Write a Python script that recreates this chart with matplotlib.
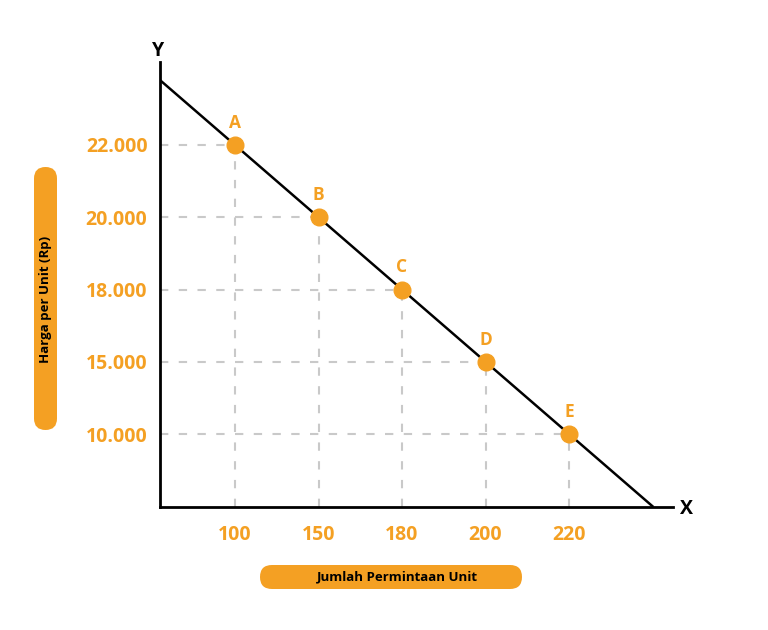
import numpy as np
import matplotlib.pyplot as plt
from matplotlib.patches import FancyBboxPatch

# data
titik = ['A', 'B', 'C', 'D', 'E']
jumlah = [100, 150, 180, 200, 220]               # Jumlah Permintaan Unit
harga = [22000, 20000, 18000, 15000, 10000]      # Harga per Unit (Rp)
harga_ticks = [10000, 15000, 18000, 20000, 22000]
jumlah_labels = ['100', '150', '180', '200', '220']
harga_labels = ['10.000', '15.000', '18.000', '20.000', '22.000']

oranye = '#F4A023'
abu = '#C9C9C9'
plt.rcParams['font.family'] = ['Open Sans', 'DejaVu Sans']

W, H = 768, 630
fig = plt.figure(figsize=(W / 100, H / 100), dpi=100)

# overlay in pixel units for the pill labels
bg = fig.add_axes([0, 0, 1, 1])
bg.set_xlim(0, W)
bg.set_ylim(H, 0)
bg.axis('off')

bg.add_patch(FancyBboxPatch((34, 167), 23, 263, boxstyle='round,pad=0,rounding_size=11.5',
                            fc=oranye, ec='none'))
bg.text(46, 299, 'Harga per Unit (Rp)', rotation=90, ha='center', va='center',
        fontsize=9.5, fontweight='bold', color='black')
bg.add_patch(FancyBboxPatch((260, 565), 262, 24, boxstyle='round,pad=0,rounding_size=12',
                            fc=oranye, ec='none'))
bg.text(397, 577, 'Jumlah Permintaan Unit', ha='center', va='center',
        fontsize=9.5, fontweight='bold', color='black')
bg.text(158, 51, 'Y', ha='center', va='center', fontsize=14, fontweight='bold')
bg.text(686, 509, 'X', ha='center', va='center', fontsize=14, fontweight='bold')

# main chart, categories on evenly spaced positions
ax = fig.add_axes([160 / W, 1 - 507 / H, (673 - 160) / W, (507 - 62) / H])
xpos = np.array([jumlah.index(j) for j in jumlah])
ypos = np.array([harga_ticks.index(h) for h in harga])

x0 = (160 - 235) / 83.5
x1 = (673 - 235) / 83.5
y0 = (434 - 507) / 72.25
y1 = (434 - 62) / 72.25
ax.set_xlim(x0, x1)
ax.set_ylim(y0, y1)

for xp, yp in zip(xpos, ypos):
    ax.plot([x0, xp], [yp, yp], ls=(0, (4, 5)), color=abu, lw=1.5, zorder=1)
    ax.plot([xp, xp], [y0, yp], ls=(0, (4, 5)), color=abu, lw=1.5, zorder=1)

# demand line through the points, extended to the axes
m, c = np.polyfit(xpos, ypos, 1)
xl = np.array([x0, (y0 - c) / m])
ax.plot(xl, m * xl + c, color='black', lw=1.8, zorder=2, solid_capstyle='butt')

ax.plot(xpos, ypos, 'o', color=oranye, ms=12, zorder=3)
for t, xp, yp in zip(titik, xpos, ypos):
    ax.annotate(t, (xp, yp), xytext=(0, 16), textcoords='offset points',
                ha='center', va='center', color=oranye, fontsize=12.5, fontweight='bold')

ax.set_xticks(range(len(jumlah_labels)), jumlah_labels)
ax.set_yticks(range(len(harga_labels)), harga_labels)
ax.tick_params(axis='both', length=0, labelsize=14, labelcolor=oranye)
ax.tick_params(axis='x', pad=13)
ax.tick_params(axis='y', pad=9)
for lab in ax.get_xticklabels() + ax.get_yticklabels():
    lab.set_fontweight('bold')

for s in ['top', 'right']:
    ax.spines[s].set_visible(False)
for s in ['left', 'bottom']:
    ax.spines[s].set_linewidth(2)
ax.patch.set_alpha(0)

fig.savefig('out.png', dpi=100)
